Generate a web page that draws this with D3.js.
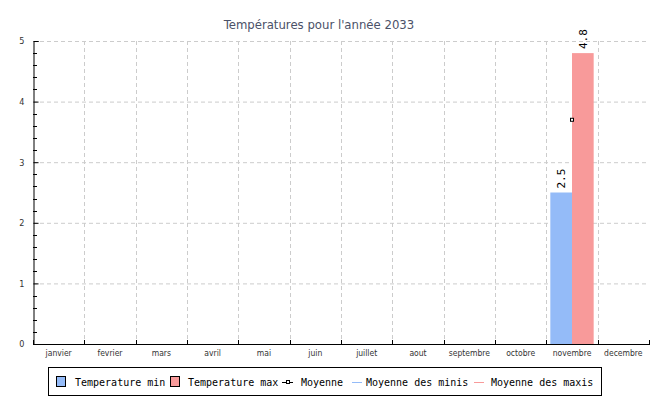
<!DOCTYPE html>
<html><head><meta charset="utf-8">
<script src="https://cdn.jsdelivr.net/npm/d3@7"></script>
<style>body{margin:0;background:#fff}svg{display:block}</style>
</head><body><svg id="c" width="650" height="400"></svg>
<script>
const months = ["janvier","fevrier","mars","avril","mai","juin","juillet","aout","septembre","octobre","novembre","decembre"];
const tempMin = [null,null,null,null,null,null,null,null,null,null,2.5,null];
const tempMax = [null,null,null,null,null,null,null,null,null,null,4.8,null];
const moyenne = [null,null,null,null,null,null,null,null,null,null,3.7,null];
const yTicks = [0,1,2,3,4,5];
const title = "Températures pour l'année 2033";
const legendItems = ["Temperature min","Temperature max","Moyenne","Moyenne des minis","Moyenne des maxis"];

const svg = d3.select("#c");
const L=33, R=649, T=41, B=344;
const x = d3.scaleBand().domain(months).range([L,R]);
const y = d3.scaleLinear().domain([0,5]).range([B,T]);
const cMin="#94bbf8", cMax="#f89a9a";

svg.append("text").attr("x",319).attr("y",29).attr("text-anchor","middle")
  .attr("font-family","DejaVu Sans Condensed").attr("font-size",13).attr("fill","#4b5168").text(title);

// grid
const g = svg.append("g");
g.selectAll(".hg").data(yTicks.slice(1)).join("line")
  .attr("x1",L).attr("x2",R).attr("y1",d=>y(d)+0.5).attr("y2",d=>y(d)+0.5)
  .attr("stroke","#cccccc").attr("stroke-dasharray","4,3");
g.selectAll(".vg").data(months.slice(1)).join("line")
  .attr("x1",d=>Math.round(x(d))+0.5).attr("x2",d=>Math.round(x(d))+0.5).attr("y1",T).attr("y2",B)
  .attr("stroke","#cccccc").attr("stroke-dasharray","4,3");

// bars
const bw = x.bandwidth();
const pad = 4;
const half = (bw-2*pad)/2;
svg.selectAll(".bmin").data(months.map((m,i)=>({m,v:tempMin[i]})).filter(d=>d.v!=null)).join("rect")
  .attr("x",d=>x(d.m)+pad).attr("width",half).attr("y",d=>y(d.v)).attr("height",d=>B-y(d.v)).attr("fill",cMin);
svg.selectAll(".bmax").data(months.map((m,i)=>({m,v:tempMax[i]})).filter(d=>d.v!=null)).join("rect")
  .attr("x",d=>x(d.m)+pad+half).attr("width",half).attr("y",d=>y(d.v)).attr("height",d=>B-y(d.v)).attr("fill",cMax);

// value labels
function vlabel(arr, off){
  svg.selectAll(null).data(months.map((m,i)=>({m,v:arr[i]})).filter(d=>d.v!=null)).join("text")
    .attr("transform",d=>`translate(${x(d.m)+pad+off+half/2+4},${y(d.v)-4}) rotate(-90)`)
    .attr("font-family","DejaVu Sans Mono").attr("font-size",11).attr("fill","#000").text(d=>d.v.toFixed(1));
}
vlabel(tempMin,0); vlabel(tempMax,half);

// moyenne markers
svg.selectAll(".mo").data(months.map((m,i)=>({m,v:moyenne[i]})).filter(d=>d.v!=null)).join("rect")
  .attr("x",d=>x(d.m)+bw/2-1.5).attr("y",d=>y(d.v)-1.5).attr("width",3).attr("height",3)
  .attr("fill","#fff").attr("stroke","#000").attr("stroke-width",1);

// axes
const ya = svg.append("g").attr("transform",`translate(${L+0.5},0)`)
  .call(d3.axisLeft(y).tickValues(yTicks).tickSize(-5).tickPadding(9).tickFormat(d3.format("d")));
ya.select(".domain").attr("stroke","#000");
ya.selectAll("text").attr("font-family","DejaVu Sans Condensed").attr("font-size",9).attr("fill","#333");
const minor = d3.range(0,5.01,0.2).filter(v=>Math.abs(v-Math.round(v))>1e-6);
svg.selectAll(".mt").data(minor).join("line").attr("x1",L).attr("x2",L+4)
  .attr("y1",d=>Math.round(y(d))+0.5).attr("y2",d=>Math.round(y(d))+0.5).attr("stroke","#000");
svg.append("line").attr("x1",L).attr("x2",R+1).attr("y1",B+0.5).attr("y2",B+0.5).attr("stroke","#000");
const bounds = months.map(m=>x(m)).concat([R]);
svg.selectAll(".xt").data(bounds).join("line").attr("x1",d=>Math.round(d)+0.5).attr("x2",d=>Math.round(d)+0.5)
  .attr("y1",B-4).attr("y2",B).attr("stroke","#000");
svg.selectAll(".xl").data(months).join("text").attr("x",d=>x(d)+bw/2).attr("y",B+12).attr("text-anchor","middle")
  .attr("font-family","DejaVu Sans Condensed").attr("font-size",8.5).attr("fill","#333").text(d=>d);

// legend
const lg = svg.append("g");
lg.append("rect").attr("x",48.5).attr("y",367.5).attr("width",553).attr("height",28).attr("fill","#fff").attr("stroke","#000");
const ly = 382;
const items = [
  {t:legendItems[0], type:"box", c:cMin, x:56, tx:75},
  {t:legendItems[1], type:"box", c:cMax, x:170, tx:188},
  {t:legendItems[2], type:"mark", c:"#000", x:282, tx:301},
  {t:legendItems[3], type:"line", c:cMin, x:352, tx:366},
  {t:legendItems[4], type:"line", c:cMax, x:474, tx:491}
];
items.forEach(it=>{
  if(it.type==="box"){
    lg.append("rect").attr("x",it.x+0.5).attr("y",ly-5.5).attr("width",9).attr("height",10).attr("fill",it.c).attr("stroke","#000");
  } else if(it.type==="mark"){
    lg.append("line").attr("x1",it.x).attr("x2",it.x+11).attr("y1",ly+0.5).attr("y2",ly+0.5).attr("stroke","#000");
    lg.append("rect").attr("x",it.x+4.5).attr("y",ly-1.5).attr("width",3).attr("height",3).attr("fill","#fff").attr("stroke","#000");
  } else {
    lg.append("line").attr("x1",it.x).attr("x2",it.x+10).attr("y1",ly+0.5).attr("y2",ly+0.5).attr("stroke",it.c);
  }
  lg.append("text").attr("x",it.tx).attr("y",ly+4).attr("font-family","DejaVu Sans Mono").attr("font-size",10).attr("fill","#000").text(it.t);
});
</script></body></html>
